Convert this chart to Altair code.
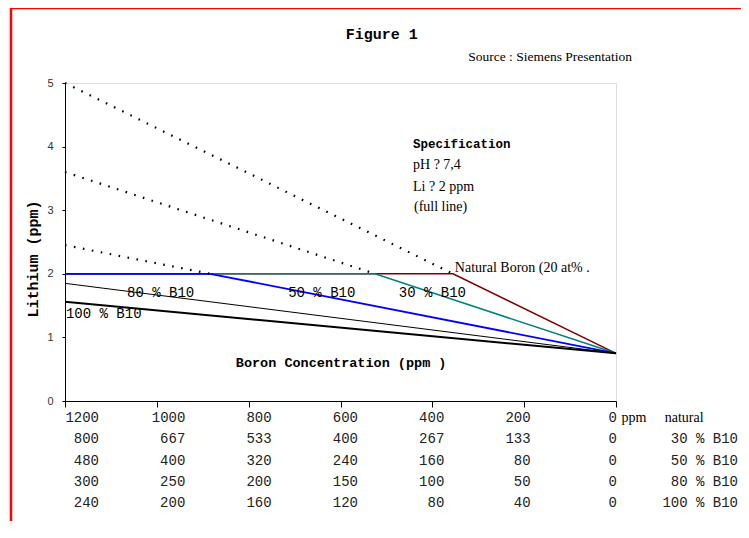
import altair as alt
import pandas as pd

# ---------------- data ----------------
series_names = ["Natural Boron", "30 % B10", "50 % B10", "80 % B10", "100 % B10"]
series_ppm = [
    [1200, 355, 0],      # natural boron
    [1200, 525, 0],      # 30 % B10
    [1200, 884, 0],      # 50 % B10
    [1200, 0],           # 80 % B10
    [1200, 0],           # 100 % B10
]
series_li = [
    [2.0, 2.0, 0.75],
    [2.0, 2.0, 0.75],
    [2.0, 2.0, 0.75],
    [1.85, 0.75],
    [1.56, 0.75],
]
series_colors = ["#800000", "#008080", "#0000ff", "#000000", "#000000"]
series_widths = [1.5, 1.5, 1.8, 1.0, 2.0]

# dotted (unconstrained) extensions above the 2 ppm limit
ext_names = ["Natural Boron", "30 % B10", "50 % B10"]
ext_ppm = [[1200, 355], [1200, 525], [1200, 884]]
ext_li = [[5.0, 2.0], [3.6, 2.0], [2.45, 2.0]]

# equivalent-concentration table under the axis
table_natural = [1200, 1000, 800, 600, 400, 200, 0]
table_b30 = [800, 667, 533, 400, 267, 133, 0]
table_b50 = [480, 400, 320, 240, 160, 80, 0]
table_b80 = [300, 250, 200, 150, 100, 50, 0]
table_b100 = [240, 200, 160, 120, 80, 40, 0]
table_rows = [table_natural, table_b30, table_b50, table_b80, table_b100]
table_row_labels = ["", "30 % B10", "50 % B10", "80 % B10", "100 % B10"]

# annotations: text, ppm, lithium, font, size, weight, align
annotations = [
    ("Figure 1", 510, 5.77, "Liberation Mono", 15, "bold", "center"),
    ("Source : Siemens Presentation", 322, 5.41, "Liberation Serif", 13.5, "normal", "left"),
    ("Specification", 442, 4.04, "Liberation Mono", 12.5, "bold", "left"),
    ("pH ? 7,4", 442, 3.71, "Liberation Serif", 14, "normal", "left"),
    ("Li ? 2 ppm", 442, 3.37, "Liberation Serif", 14, "normal", "left"),
    ("(full line)", 440, 3.05, "Liberation Serif", 14, "normal", "left"),
    ("Natural Boron (20 at% .", 351, 2.09, "Liberation Serif", 14, "normal", "left"),
    ("30 % B10", 473, 1.70, "Liberation Mono", 14, "normal", "left"),
    ("50 % B10", 714, 1.70, "Liberation Mono", 14, "normal", "left"),
    ("80 % B10", 1065, 1.70, "Liberation Mono", 14, "normal", "left"),
    ("100 % B10", 1198, 1.37, "Liberation Mono", 14, "normal", "left"),
    ("Boron Concentration (ppm )", 828, 0.60, "Liberation Mono", 13.5, "bold", "left"),
    ("ppm", -12, -0.27, "Liberation Serif", 14, "normal", "left"),
    ("natural", -106, -0.27, "Liberation Serif", 14, "normal", "left"),
]

W, H = 551, 318

xscale = alt.Scale(domain=[1200, 0], nice=False)
yscale = alt.Scale(domain=[0, 5], nice=False)

x_axis = alt.Axis(values=[0, 200, 400, 600, 800, 1000, 1200], labels=False, title=None,
                  tickSize=6, tickColor="#000000", domainColor="#000000", grid=False)
y_axis = alt.Axis(values=[0, 1, 2, 3, 4, 5], title="Lithium (ppm)", tickSize=3,
                  tickColor="#000000", domainColor="#000000", grid=False,
                  labelFont="Liberation Sans", labelFontSize=11, labelColor="#333333",
                  labelPadding=9, titleFont="Liberation Mono", titleFontSize=15,
                  titleFontWeight="bold", titleAngle=270, titleAlign="left",
                  titleBaseline="middle", titleX=-33, titleY=234, titleColor="#000000")


def xy():
    return dict(
        x=alt.X("ppm:Q", scale=xscale, axis=x_axis),
        y=alt.Y("li:Q", scale=yscale, axis=y_axis),
    )


layers = []

# solid series lines, natural first so blue sits on top of the flat parts
for i, name in enumerate(series_names):
    df = pd.DataFrame({"ppm": series_ppm[i], "li": series_li[i],
                       "order": list(range(len(series_ppm[i])))})
    layers.append(
        alt.Chart(df).mark_line(color=series_colors[i], strokeWidth=series_widths[i])
        .encode(order="order:Q", **xy())
    )

# dotted extensions
ext_rows = []
for i, name in enumerate(ext_names):
    for j in range(len(ext_ppm[i])):
        ext_rows.append({"series": name, "ppm": ext_ppm[i][j], "li": ext_li[i][j], "order": j})
ext_df = pd.DataFrame(ext_rows)
layers.append(
    alt.Chart(ext_df).mark_line(color="#000000", strokeWidth=2.2, strokeDash=[1.6, 7.5])
    .encode(detail="series:N", order="order:Q", **xy())
)

# annotations
for text, px, ly, font, size, weight, align in annotations:
    adf = pd.DataFrame({"ppm": [px], "li": [ly], "label": [text]})
    layers.append(
        alt.Chart(adf).mark_text(align=align, baseline="middle", font=font,
                                 fontSize=size, fontWeight=weight, color="#000000")
        .encode(text="label:N", **xy())
    )

main = alt.layer(*layers)

# table layer with its own column/row scales
trows = []
for r, vals in enumerate(table_rows):
    for c, v in enumerate(vals):
        trows.append({"row": r, "col": c, "val": str(v)})
tdf = pd.DataFrame(trows)
tx = alt.Scale(domain=[0, 6], range=[34, 552])
ty = alt.Scale(domain=[0, 4], range=[335, 420])
table_nums = alt.Chart(tdf).mark_text(align="right", baseline="middle", font="Liberation Mono",
                                      fontSize=14, color="#222222").encode(
    x=alt.X("col:Q", scale=tx, axis=None),
    y=alt.Y("row:Q", scale=ty, axis=None),
    text="val:N",
)
lab_df = pd.DataFrame({"label": table_row_labels[1:], "row": [1, 2, 3, 4]})
lab_scale = alt.Scale(domain=[0, 1], range=[0, 673])
table_labels = alt.Chart(lab_df).transform_calculate(one="1").mark_text(
    align="right", baseline="middle", font="Liberation Mono", fontSize=14, color="#222222"
).encode(
    x=alt.X("one:Q", scale=lab_scale, axis=None),
    y=alt.Y("row:Q", scale=ty, axis=None),
    text="label:N",
)
table = alt.layer(table_nums, table_labels).resolve_scale(x="independent")

frame = alt.Chart(pd.DataFrame({"k": [0]})).mark_rect(
    filled=False, stroke="#ff0000", strokeWidth=2.5
).encode(x=alt.value(-54), x2=alt.value(760), y=alt.value(-75), y2=alt.value(560))

chart = alt.layer(main, table, frame).resolve_scale(x="independent", y="independent").properties(
    width=W, height=H,
    padding={"left": 57, "top": 75, "right": 125, "bottom": 120},
    autosize=alt.AutoSizeParams(type="none"),
).configure_view(stroke="#999999", strokeWidth=1).configure(background="#ffffff")

chart.save("out.html", embed_options={"renderer": "svg", "actions": False})
